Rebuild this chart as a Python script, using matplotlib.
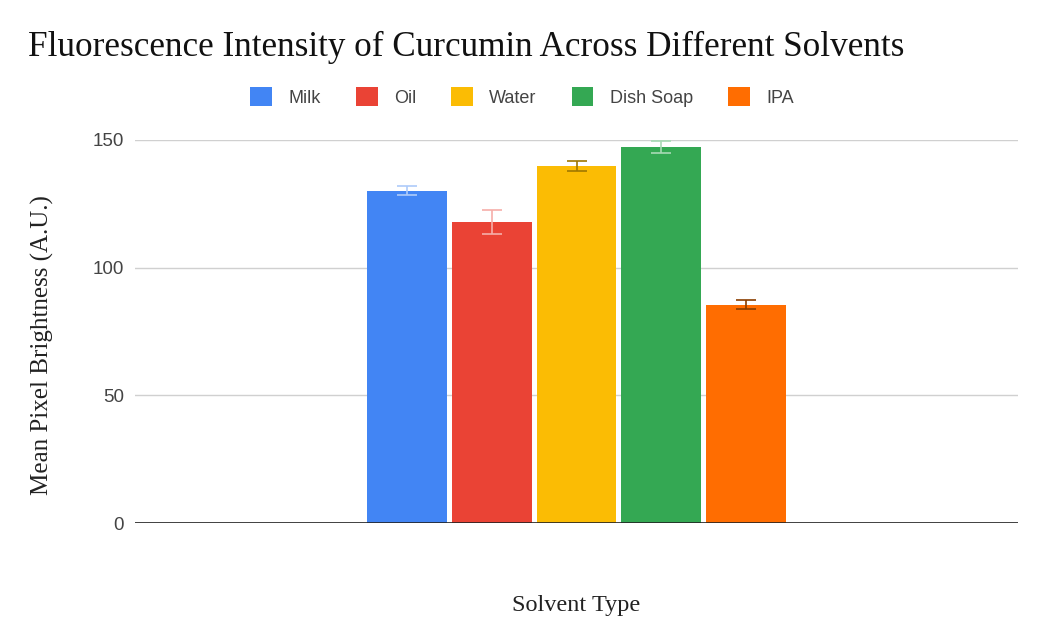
import matplotlib.pyplot as plt
import numpy as np

# data
solvents = ['Milk', 'Oil', 'Water', 'Dish Soap', 'IPA']
brightness = [130.2, 117.8, 139.9, 147.3, 85.5]
err = [1.6, 4.7, 2.0, 2.4, 1.8]

bar_colors = ['#4285f4', '#ea4335', '#fbbc04', '#34a853', '#ff6d01']
err_colors = ['#aecbfa', '#f6aea9', '#a07800', '#a8dab5', '#8a3d00']

fig = plt.figure(figsize=(10.43, 6.4), dpi=100)
ax = fig.add_axes([135 / 1043, 1 - 523 / 640, 883 / 1043, 383 / 640 + 0.0001])

width = 0.0906
step = 0.0957
offsets = (np.arange(len(solvents)) - 2) * step
for i, name in enumerate(solvents):
    ax.bar(offsets[i], brightness[i], width=width, color=bar_colors[i],
           label=name, zorder=3)
    ax.errorbar(offsets[i], brightness[i], yerr=err[i], color=err_colors[i],
                capsize=7.5, capthick=1.2, elinewidth=1.2, zorder=4)

ax.set_xlim(-0.5, 0.5)
ax.set_ylim(0, 150)
ax.set_yticks([0, 50, 100, 150])
ax.set_xticks([])
ax.grid(axis='y', color='#d0d0d0', linewidth=1, zorder=0)
ax.axhline(0, color='#222222', linewidth=1.2, zorder=5)
for s in ax.spines.values():
    s.set_visible(False)
ax.tick_params(axis='y', length=0, pad=8, labelsize=13.5, labelcolor='#444444')
for t in ax.get_yticklabels():
    t.set_family('Liberation Sans')

fig.text(42 / 1043, 1 - 345 / 640, 'Mean Pixel Brightness (A.U.)',
         family='Liberation Serif', fontsize=18, color='#222222',
         rotation=90, ha='center', va='center')
fig.text(576 / 1043, 1 - 605 / 640, 'Solvent Type', family='Liberation Serif',
         fontsize=17.5, color='#222222', ha='center', va='center')
fig.text(28 / 1043, 1 - 47 / 640,
         'Fluorescence Intensity of Curcumin Across Different Solvents',
         family='Liberation Serif', fontsize=25.3, color='#111111',
         ha='left', va='center')

leg = fig.legend(loc='center', bbox_to_anchor=(522 / 1043, 1 - 97 / 640),
                 ncol=5, frameon=False, handlelength=1.2, handleheight=1.2,
                 columnspacing=1.95, handletextpad=0.9,
                 prop={'family': 'Liberation Sans', 'size': 13})
for t in leg.get_texts():
    t.set_color('#444444')

fig.savefig('out.png', dpi=100)
